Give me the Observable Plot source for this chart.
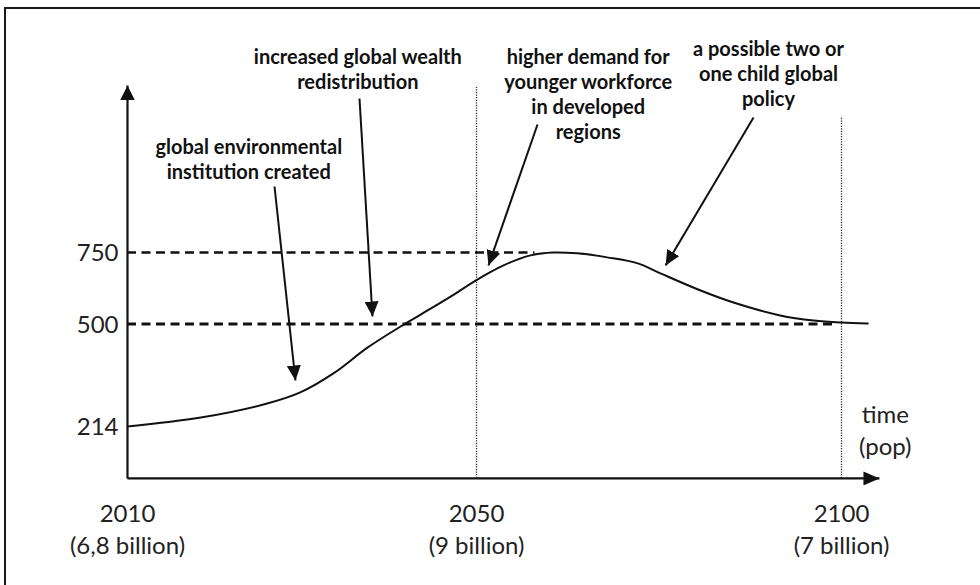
<!DOCTYPE html>
<html><head><meta charset="utf-8">
<script src="https://cdn.jsdelivr.net/npm/d3@7"></script>
<script src="https://cdn.jsdelivr.net/npm/@observablehq/plot@0.6"></script>
<style>
body{margin:0;background:#fff;}
#wrap{position:relative;width:980px;height:585px;overflow:hidden;background:#fff;}
#border{position:absolute;left:4px;top:7px;width:1000px;height:600px;border-top:2px solid #1a1a1a;border-left:2px solid #1a1a1a;pointer-events:none;}
</style></head><body>
<div id="wrap"><div id="chart"></div><div id="border"></div></div>
<script>
// ---- data ----
const years  = [2010, 2018.4, 2026.0, 2029.8, 2033.6, 2037.5, 2041.3, 2043.6, 2047.4, 2049.9, 2053.7, 2057.4, 2060.5, 2063.8, 2067.9, 2072.1, 2075.2, 2080.7, 2085.2, 2091.6, 2096.2, 2100, 2103.6];
const values = [214, 239, 278, 309, 362, 434, 493, 533, 603, 652, 705, 740, 750, 747, 733, 712, 677, 617, 575, 530, 512, 505, 502];

const yTicks = [214, 500, 750];
const xTicks = [2010, 2050, 2100];
const xTickLabels = ["2010\n(6,8 billion)", "2050\n(9 billion)", "2100\n(7 billion)"];

const levelValues = [750, 500];
const levelEnds = [2058, 2098.8];
const levelWidths = [2.3, 2.8];

const markYears = [2050, 2100];
const markTops = [1327, 1222];

const axisBaseY = 69;
const axisTopY = 1334;
const axisEndX = 2105.2;

const noteTexts = [
  "global environmental\ninstitution created",
  "increased global wealth\nredistribution",
  "higher demand for\nyounger workforce\nin developed\nregions",
  "a possible two or\none child global\npolicy"
];
const noteX = [2023.9, 2036.4, 2065.3, 2090.0];
const noteY = [1080, 1395, 1307, 1378];

const arrowX1 = [2026.85, 2036.59, 2058.36, 2087.95];
const arrowY1 = [980.8, 1288.5, 1197.6, 1222];
const arrowX2 = [2029.25, 2038.08, 2051.64, 2075.9];
const arrowY2 = [342.4, 526.2, 704.5, 704.5];

const axisLabel = "time\n(pop)";
const axisLabelX = 2106.0;
const axisLabelY = 207;

// schematic (non-uniform) spacing of the drawn axes
const warpX = d3.scaleLinear([2010, 2050, 2100], [0, 349, 714]);
const warpY = d3.scaleLinear([214, 500, 750], [0, 102.5, 174]);

// ---- tables ----
const curve = years.map((t, i) => ({t, v: values[i]}));
const levels = levelValues.map((v, i) => ({v, start: xTicks[0], end: levelEnds[i], w: levelWidths[i]}));
const marks = markYears.map((t, i) => ({t, base: axisBaseY, top: markTops[i]}));
const notes = noteTexts.map((s, i) => ({s, x: noteX[i], y: noteY[i]}));
const arrows = arrowX1.map((x1, i) => ({x1, y1: arrowY1[i], x2: arrowX2[i], y2: arrowY2[i]}));
const xLab = xTicks.map((t, i) => ({t, s: xTickLabels[i]}));
const yLab = yTicks.map(v => ({v, s: String(v)}));
const axisY = [{x1: xTicks[0], y1: axisBaseY, x2: xTicks[0], y2: axisTopY}];
const axisX = [{x1: xTicks[0], y1: axisBaseY, x2: axisEndX, y2: axisBaseY}];
const axisLab = [{x: axisLabelX, y: axisLabelY, s: axisLabel}];

const head = (len, wid) => (color, context) => {
  const doc = (context && context.document) || document;
  const ns = "http://www.w3.org/2000/svg";
  const m = doc.createElementNS(ns, "marker");
  m.setAttribute("viewBox", `${-len} ${-wid / 2} ${len} ${wid}`);
  m.setAttribute("markerWidth", len);
  m.setAttribute("markerHeight", wid);
  m.setAttribute("markerUnits", "userSpaceOnUse");
  m.setAttribute("orient", "auto");
  m.setAttribute("refX", 0);
  m.setAttribute("refY", 0);
  const p = doc.createElementNS(ns, "path");
  p.setAttribute("d", `M0,0L${-len},${-wid / 2}L${-len},${wid / 2}Z`);
  p.setAttribute("fill", "#111");
  p.setAttribute("stroke", "none");
  m.appendChild(p);
  return m;
};

const ink = "#111";
const font = "Lato, 'Open Sans', sans-serif";

const chart = Plot.plot({
  width: 980,
  height: 585,
  marginLeft: 127,
  marginRight: 0,
  marginTop: 0,
  marginBottom: 107,
  style: {background: "transparent", fontFamily: font, color: ink},
  x: {type: "linear", transform: warpX, domain: [0, 714], range: [127, 841], axis: null},
  y: {type: "linear", transform: warpY, domain: [0, 174], range: [426, 252], axis: null},
  marks: [
    Plot.ruleX(marks, {x: "t", y1: "base", y2: "top", stroke: "#333", strokeWidth: 1.3, strokeDasharray: "1.3,1.3"}),
    Plot.ruleY(levels, {y: "v", x1: "start", x2: "end", stroke: ink, strokeWidth: "w", strokeDasharray: "9,5.5"}),
    Plot.line(curve, {x: "t", y: "v", curve: "catmull-rom", stroke: ink, strokeWidth: 2}),
    Plot.link(axisY, {x1: "x1", y1: "y1", x2: "x2", y2: "y2", stroke: ink, strokeWidth: 2.2, markerEnd: head(15, 15)}),
    Plot.link(axisX, {x1: "x1", y1: "y1", x2: "x2", y2: "y2", stroke: ink, strokeWidth: 2.2, markerEnd: head(16, 14)}),
    Plot.link(arrows, {x1: "x1", y1: "y1", x2: "x2", y2: "y2", stroke: ink, strokeWidth: 2, markerEnd: head(15, 14)}),
    Plot.text(yLab, {y: "v", frameAnchor: "left", textAnchor: "end", dx: -9, dy: 1, text: "s", fontSize: 24, fill: "#222", fontFamily: font}),
    Plot.text(xLab, {x: "t", frameAnchor: "bottom", lineAnchor: "top", dy: 21, text: "s", fontSize: 24, lineHeight: 1.33, fill: "#222", fontFamily: font}),
    Plot.text(axisLab, {x: "x", y: "y", text: "s", lineAnchor: "middle", fontSize: 24, lineHeight: 1.33, fill: "#222", fontFamily: font}),
    Plot.text(notes, {x: "x", y: "y", text: "s", lineAnchor: "middle", fontSize: 20, fontWeight: "bold", lineHeight: 1.25, fill: ink, fontFamily: font})
  ]
});
document.getElementById("chart").appendChild(chart);
</script>
</body></html>
